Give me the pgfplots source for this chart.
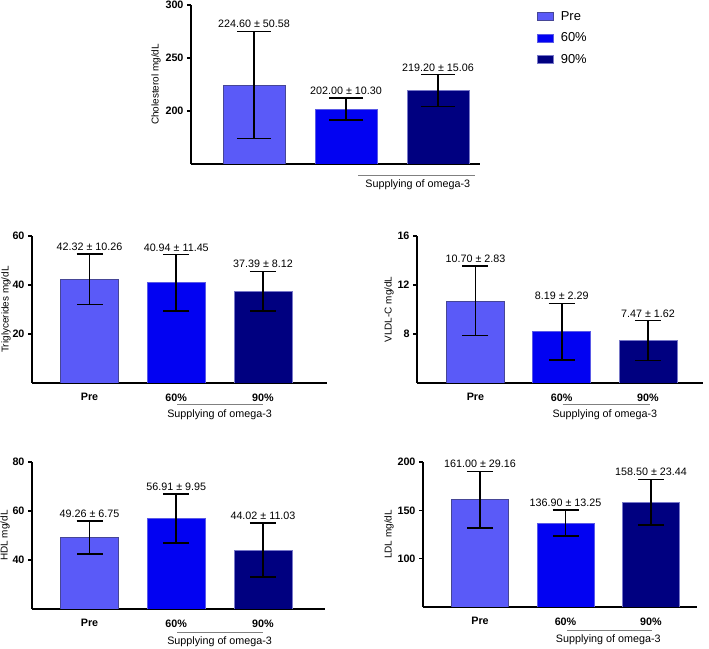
\documentclass[border=0pt]{standalone}
\usepackage{fontspec}
\setmainfont{Liberation Sans}
\usepackage{pgfplots}
\pgfplotsset{compat=1.18}

\definecolor{cpre}{RGB}{90,90,248}
\definecolor{csixty}{RGB}{2,2,242}
\definecolor{cninety}{RGB}{0,0,128}
\definecolor{epre}{RGB}{70,70,150}
\definecolor{esixty}{RGB}{90,90,230}
\definecolor{eninety}{RGB}{120,120,200}

\newcommand\lblfont{\fontsize{10.8}{13}\selectfont}

\tikzset{supply/.style={gray, line width=1bp}}

\pgfplotsset{
  panel/.style={
    scale only axis, anchor=south west,
    axis x line*=bottom, axis y line*=left,
    axis line style={-, line width=1.6bp, black},
    clip mode=individual,
    xtick={0,1,2}, xticklabels={Pre,60\%,90\%},
    xtick style={draw=none},
    xticklabel style={font=\lblfont\bfseries, yshift=-3bp},
    ytick style={line width=1.6bp, black},
    major tick length=4bp, tick align=outside,
    yticklabel style={font=\lblfont\bfseries},
    /pgf/number format/assume math mode=true,
    ylabel style={font=\lblfont},
  },
  ylab/.style={every axis y label/.style={at={([xshift=-#1]axis description cs:0,0.5)}, rotate=90, anchor=center}},
  bars/.style n args={3}{ybar, bar shift=0pt, bar width=0.67, fill=#1, draw=#2, line width=0.7bp,
    error bars/.cd, y dir=both, y explicit,
    error bar style={line width=1.6bp, black},
    error mark options={rotate=90, line width=1.6bp, black, mark size=#3}},
  vals/.style={forget plot, draw=none, mark=none, point meta=explicit symbolic, nodes near coords,
    every node near coord/.append style={font=\lblfont, anchor=south, text=black}},
}

\begin{document}
\begin{tikzpicture}
\useasboundingbox (0,0) rectangle (709bp,649bp);

% Cholesterol
\begin{axis}[panel, ylab=35bp, at={(191bp,485bp)}, width=289bp, height=159bp,
  xmin=-0.685, xmax=2.456, ymin=150, ymax=300, ytick={200,250,300}, xtick=\empty,
  ylabel={Cholesterol mg/dL},
  legend style={at={(1.197,0.975)}, anchor=north west, draw=none, fill=none, inner sep=0pt,
    row sep=6.5bp, font=\fontsize{13}{15}\selectfont,
    nodes={inner sep=2bp, text height=9bp, text depth=2bp},
    /tikz/every odd column/.append style={column sep=5bp}},
  legend cell align=left,
  legend image code/.code={\draw[#1] (0bp,-4bp) rectangle (16bp,4bp);}]
\addplot[bars={cpre}{epre}{17bp}] coordinates {(0,224.60) +- (0,50.58)};
\addlegendentry{Pre}
\addplot[bars={csixty}{esixty}{17bp}] coordinates {(1,202.00) +- (0,10.30)};
\addlegendentry{60\%}
\addplot[bars={cninety}{eninety}{17bp}] coordinates {(2,219.20) +- (0,15.06)};
\addlegendentry{90\%}
\addplot[vals] coordinates {(0,275.18) [224.60 ± 50.58] (1,212.30) [202.00 ± 10.30] (2,234.26) [219.20 ± 15.06]};
\draw[supply] ([yshift=-12bp]axis cs:1.13,150) -- ([yshift=-12bp]axis cs:2.40,150);
\node[font=\lblfont] at ([yshift=-21bp]axis cs:1.78,150) {Supplying of omega-3};
\end{axis}

% Triglycerides
\begin{axis}[panel, ylab=26bp, at={(32bp,266bp)}, width=295bp, height=147bp,
  xmin=-0.663, xmax=2.738, ymin=0, ymax=60, ytick={20,40,60},
  ylabel={Triglycerides mg/dL}]
\addplot[bars={cpre}{epre}{13bp}] coordinates {(0,42.32) +- (0,10.26)};
\addplot[bars={csixty}{esixty}{13bp}] coordinates {(1,40.94) +- (0,11.45)};
\addplot[bars={cninety}{eninety}{13bp}] coordinates {(2,37.39) +- (0,8.12)};
\addplot[vals] coordinates {(0,52.58) [42.32 ± 10.26] (1,52.39) [40.94 ± 11.45] (2,45.51) [37.39 ± 8.12]};
\draw[supply] ([yshift=-22bp]axis cs:1.01,0) -- ([yshift=-22bp]axis cs:2.0,0);
\node[font=\lblfont] at ([yshift=-32bp]axis cs:1.5,0) {Supplying of omega-3};
\end{axis}

% VLDL-C
\begin{axis}[panel, ylab=28bp, at={(417bp,266bp)}, width=286bp, height=147bp,
  xmin=-0.678, xmax=2.638, ymin=4, ymax=16, ytick={8,12,16},
  ylabel={VLDL-C mg/dL}]
\addplot[bars={cpre}{epre}{13bp}] coordinates {(0,10.70) +- (0,2.83)};
\addplot[bars={csixty}{esixty}{13bp}] coordinates {(1,8.19) +- (0,2.29)};
\addplot[bars={cninety}{eninety}{13bp}] coordinates {(2,7.47) +- (0,1.62)};
\addplot[vals] coordinates {(0,13.53) [10.70 ± 2.83] (1,10.48) [8.19 ± 2.29] (2,9.09) [7.47 ± 1.62]};
\draw[supply] ([yshift=-22bp]axis cs:1.01,4) -- ([yshift=-22bp]axis cs:2.02,4);
\node[font=\lblfont] at ([yshift=-32bp]axis cs:1.5,4) {Supplying of omega-3};
\end{axis}

% HDL
\begin{axis}[panel, ylab=27bp, at={(32bp,40bp)}, width=293bp, height=147bp,
  xmin=-0.663, xmax=2.715, ymin=20, ymax=80, ytick={40,60,80},
  ylabel={HDL mg/dL}]
\addplot[bars={cpre}{epre}{13bp}] coordinates {(0,49.26) +- (0,6.75)};
\addplot[bars={csixty}{esixty}{13bp}] coordinates {(1,56.91) +- (0,9.95)};
\addplot[bars={cninety}{eninety}{13bp}] coordinates {(2,44.02) +- (0,11.03)};
\addplot[vals] coordinates {(0,56.01) [49.26 ± 6.75] (1,66.86) [56.91 ± 9.95] (2,55.05) [44.02 ± 11.03]};
\draw[supply] ([yshift=-23bp]axis cs:1.01,20) -- ([yshift=-23bp]axis cs:2.0,20);
\node[font=\lblfont] at ([yshift=-33bp]axis cs:1.5,20) {Supplying of omega-3};
\end{axis}

% LDL
\begin{axis}[panel, ylab=34bp, at={(423bp,42bp)}, width=274bp, height=145bp,
  xmin=-0.667, xmax=2.538, ymin=50, ymax=200, ytick={100,150,200},
  ylabel={LDL mg/dL}]
\addplot[bars={cpre}{epre}{13bp}] coordinates {(0,161.00) +- (0,29.16)};
\addplot[bars={csixty}{esixty}{13bp}] coordinates {(1,136.90) +- (0,13.25)};
\addplot[bars={cninety}{eninety}{13bp}] coordinates {(2,158.50) +- (0,23.44)};
\addplot[vals] coordinates {(0,190.16) [161.00 ± 29.16] (1,150.15) [136.90 ± 13.25] (2,181.94) [158.50 ± 23.44]};
\draw[supply] ([yshift=-23bp]axis cs:1.02,50) -- ([yshift=-23bp]axis cs:2.01,50);
\node[font=\lblfont] at ([yshift=-33bp]axis cs:1.5,50) {Supplying of omega-3};
\end{axis}
\end{tikzpicture}
\end{document}
